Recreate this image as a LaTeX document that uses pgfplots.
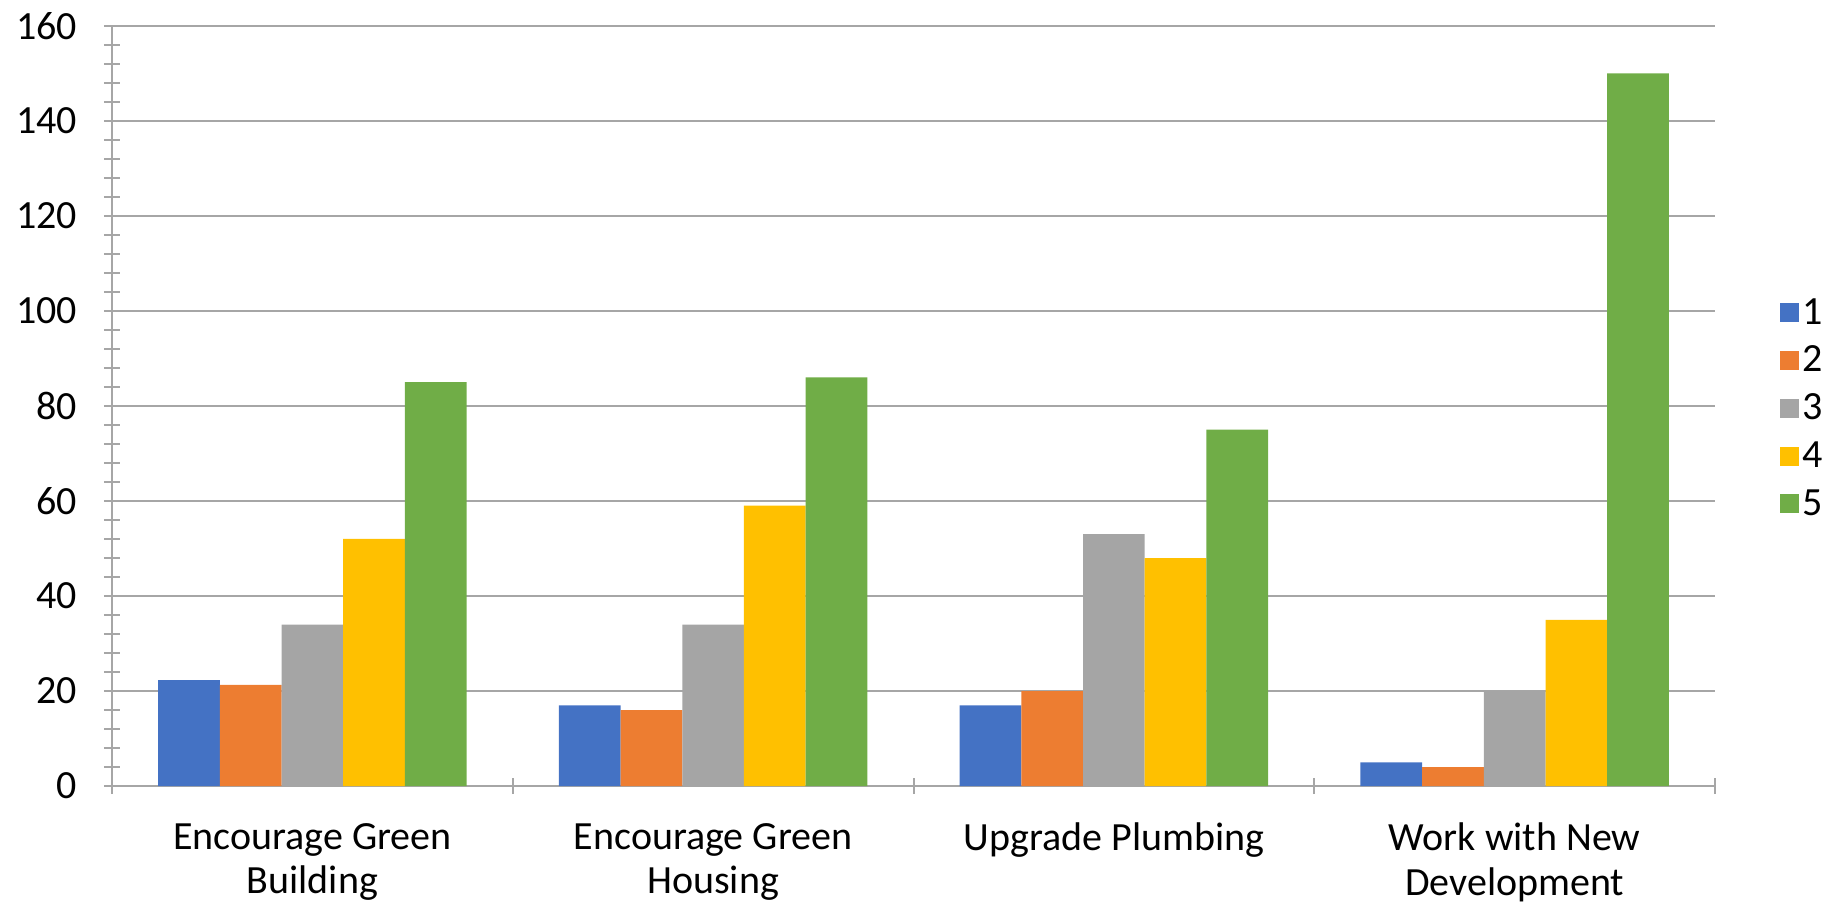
\documentclass[border=0pt]{standalone}
\usepackage{pgfplots}
\pgfplotsset{compat=1.18}
\usepackage{fontspec}
\setmainfont{Carlito}
\usetikzlibrary{calc}
\definecolor{c1}{HTML}{4472C4}
\definecolor{c2}{HTML}{ED7D31}
\definecolor{c3}{HTML}{A5A5A5}
\definecolor{c4}{HTML}{FFC000}
\definecolor{c5}{HTML}{70AD47}
\definecolor{gridc}{HTML}{A6A6A6}
\begin{document}
\begin{tikzpicture}
\begin{axis}[
  name=ax,
  scale only axis,
  width=801.5pt, height=380pt,
  ybar=0pt, bar width=0.154,
  xmin=-0.5, xmax=3.5,
  ymin=0, ymax=160,
  xtick={0,1,2,3},
  xticklabels={{Encourage Green\\Building},{Encourage Green\\Housing},{Upgrade Plumbing},{Work with New\\Development}},
  xticklabel style={align=center, font=\fontsize{20}{22.3}\selectfont, yshift=-11pt},
  major x tick style={draw=none},
  minor xtick={-0.5,0.5,1.5,2.5,3.5},
  ytick={0,20,...,160},
  minor y tick num=4,
  tick align=center,
  major tick length=8pt, minor tick length=8pt,
  tick style={gridc, line width=1pt},
  ymajorgrids,
  major grid style={gridc, line width=1pt},
  axis x line*=bottom, axis y line*=left,
  axis line style={gridc, line width=1pt, -},
  yticklabel style={font=\fontsize{20}{24}\selectfont, xshift=-10pt},
  /pgf/number format/assume math mode=true,
  legend style={draw=none, at={(1.04,0.497)}, anchor=west, font=\fontsize{20}{24}\selectfont, row sep=5.5pt, inner sep=0pt},
  legend cell align=left,
  legend image code/.code={\fill[#1] (0pt,-4.75pt) rectangle (9.5pt,4.75pt);},
]
\addplot[fill=c1, draw=none] coordinates {(0,22.3) (1,17) (2,17) (3,5)};
\addplot[fill=c2, draw=none] coordinates {(0,21.3) (1,16) (2,20) (3,4)};
\addplot[fill=c3, draw=none] coordinates {(0,34) (1,34) (2,53) (3,20)};
\addplot[fill=c4, draw=none] coordinates {(0,52) (1,59) (2,48) (3,35)};
\addplot[fill=c5, draw=none] coordinates {(0,85) (1,86) (2,75) (3,150)};
\legend{1,2,3,4,5}
\end{axis}
\pgfresetboundingbox
\path ($(ax.south west)+(-56pt,-61.5pt)$) rectangle ($(ax.north east)+(66.5pt,13pt)$);
\end{tikzpicture}
\end{document}
